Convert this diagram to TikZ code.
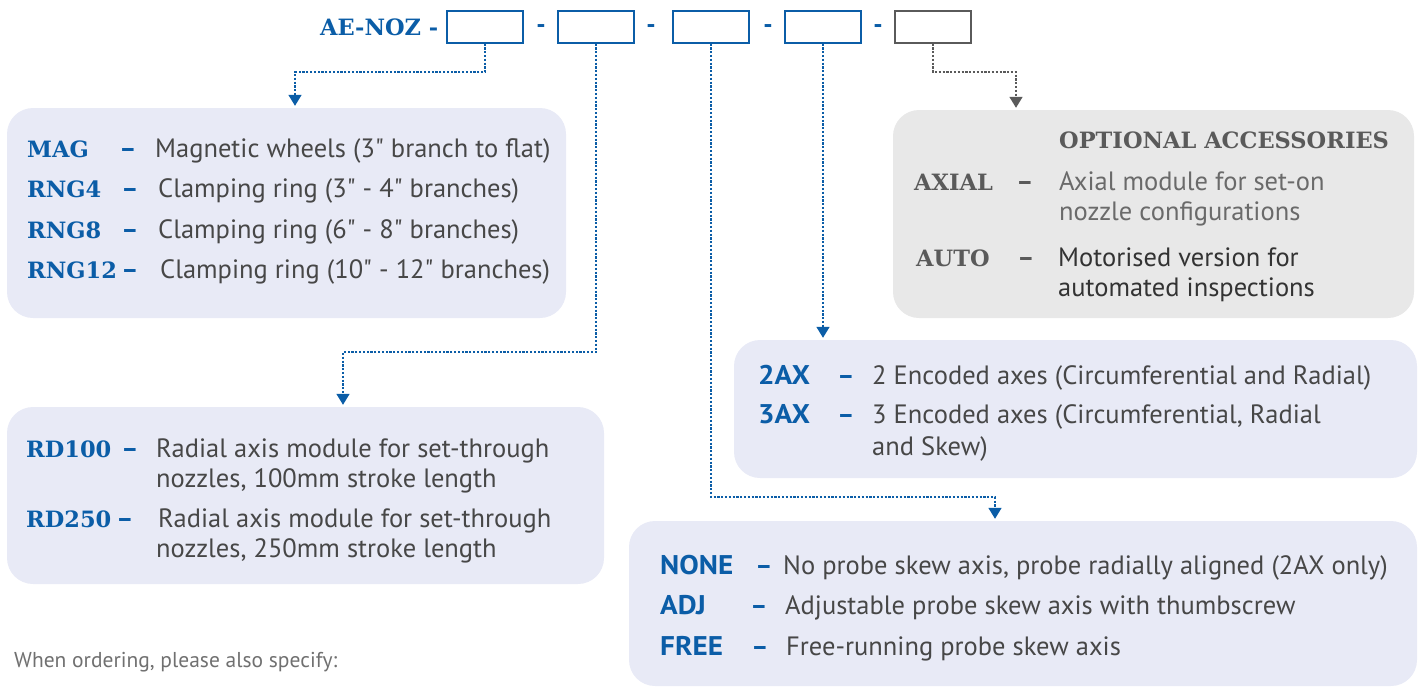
\documentclass[tikz,border=0pt]{standalone}
\usepackage{fontspec}
\setmainfont{PT Sans}
\newfontfamily\slabfont{DejaVu Serif}
\newfontfamily\condfont{PT Sans}
\newfontfamily\condbold[FakeStretch=1.08]{PT Sans Bold}
\usetikzlibrary{arrows.meta}
\definecolor{nblue}{HTML}{0B5DA7}
\definecolor{ntext}{HTML}{474747}
\definecolor{ngray}{HTML}{5A5A5A}
\definecolor{nlight}{HTML}{6A6A6A}
\definecolor{bfill}{HTML}{E8EAF6}
\definecolor{gfill}{HTML}{E8E8E8}
\definecolor{foot}{HTML}{707070}
\newcommand{\qd}{\textquotedbl}
\tikzset{
  codebox/.style={draw=nblue, line width=2pt, minimum width=76pt, minimum height=32pt, inner sep=0pt},
  greybox/.style={codebox, draw=ngray},
  panel/.style={fill=bfill, rounded corners=26pt, inner sep=0pt},
  gpanel/.style={panel, fill=gfill},
  conn/.style={nblue, line width=1.6pt, dash pattern=on 2.2pt off 1.6pt, -{Triangle[width=13pt,length=11pt]}, shorten >=2pt},
  gconn/.style={conn, ngray},
  lbl/.style={anchor=base west, inner sep=0pt, text=nblue, font=\slabfont\bfseries\fontsize{22.5}{26}\selectfont},
  glbl/.style={lbl, text=ngray},
  clbl/.style={anchor=base west, inner sep=0pt, text=nblue, font=\condbold\fontsize{27}{30}\selectfont},
  desc/.style={anchor=base west, inner sep=0pt, text=ntext, font=\fontsize{26.5}{30}\selectfont},
  cdesc/.style={anchor=base west, inner sep=0pt, text=ntext, font=\condfont\fontsize{26.5}{30}\selectfont},
  dsh/.style={anchor=base, inner sep=0pt, text=nblue, font=\bfseries\fontsize{26}{30}\selectfont},
  cdsh/.style={dsh},
  gdsh/.style={dsh, text=ngray},
}
\begin{document}
\begin{tikzpicture}[x=1pt,y=-1pt]
\useasboundingbox (0,0) rectangle (1418,686);
% header
\node[lbl] (title) at (320,35) {AE-NOZ -};
\node[codebox] (b1) at (485,26.5) {};
\node[codebox] (b2) at (596,26.5) {};
\node[codebox] (b3) at (711,26.5) {};
\node[codebox] (b4) at (823,26.5) {};
\node[greybox] (b5) at (933,26.5) {};
\node[dsh] (h1) at (541,33) {-};
\node[dsh] (h2) at (651,33) {-};
\node[dsh] (h3) at (768,33) {-};
\node[dsh] (h4) at (878,33) {-};
% panels
\node[panel, minimum width=559pt, minimum height=210pt] (pA) at (286.5,213) {};
\node[gpanel, minimum width=521pt, minimum height=208pt] (pG) at (1153.5,214) {};
\node[panel, minimum width=597pt, minimum height=177pt] (pR) at (305.5,495.5) {};
\node[panel, minimum width=683pt, minimum height=138pt] (pX) at (1075.5,409) {};
\node[panel, minimum width=788pt, minimum height=165pt] (pN) at (1023,603.5) {};
% connectors
\coordinate (j1) at (295,72);
\coordinate (j2) at (343,352);
\coordinate (j3) at (995,497);
\coordinate (j5) at (1016,72);
\draw[conn] (b1.south) |- (j1) -- (j1 |- pA.north);
\draw[conn] (b2.south) |- (j2) -- (j2 |- pR.north);
\draw[conn] (b3.south) |- (j3) -- (j3 |- pN.north);
\draw[conn] (b4.south) -- (b4.south |- pX.north);
\draw[gconn] (b5.south) |- (j5) -- (j5 |- pG.north);
% panel A
\node[lbl] (mag) at (27,157) {MAG};
\node[dsh] (dm) at (128,157) {–};
\node[desc] (tm) at (155,157) {Magnetic wheels (3\qd{} branch to flat)};
\node[lbl] (r4) at (27,197) {RNG4};
\node[dsh] (d4) at (130,197) {–};
\node[desc] (t4) at (158,197) {Clamping ring (3\qd{} - 4\qd{} branches)};
\node[lbl] (r8) at (27,238) {RNG8};
\node[dsh] (d8) at (130,238) {–};
\node[desc] (t8) at (158,238) {Clamping ring (6\qd{} - 8\qd{} branches)};
\node[lbl] (r12) at (27,278) {RNG12};
\node[dsh] (d12) at (130,278) {–};
\node[desc] (t12) at (160,278) {Clamping ring (10\qd{} - 12\qd{} branches)};
% grey panel
\node[glbl] (opt) at (1059,148) {OPTIONAL ACCESSORIES};
\node[glbl] (ax) at (914,190) {AXIAL};
\node[gdsh] (dax) at (1025,190) {–};
\node[desc, text=nlight] (tax1) at (1059,190) {Axial module for set-on};
\node[desc, text=nlight] (tax2) at (1059,220) {nozzle configurations};
\node[glbl] (au) at (916,266) {AUTO};
\node[gdsh] (dau) at (1026,266) {–};
\node[desc, text=black!80] (tau1) at (1058,266) {Motorised version for};
\node[desc, text=black!80] (tau2) at (1058,296) {automated inspections};
% RD panel
\node[lbl] (rd1) at (26,457) {RD100};
\node[dsh] (drd1) at (130,457) {–};
\node[desc] (trd1a) at (156,457) {Radial axis module for set-through};
\node[desc] (trd1b) at (156,487) {nozzles, 100mm stroke length};
\node[lbl] (rd2) at (26,527) {RD250};
\node[dsh] (drd2) at (125,527) {–};
\node[desc] (trd2a) at (158,527) {Radial axis module for set-through};
\node[desc] (trd2b) at (156,557) {nozzles, 250mm stroke length};
% 2AX panel
\node[clbl] (x2) at (758,384) {2AX};
\node[cdsh] (dx2) at (846,384) {–};
\node[cdesc] (tx2) at (872,384) {2 Encoded axes (Circumferential and Radial)};
\node[clbl] (x3) at (758,423) {3AX};
\node[cdsh] (dx3) at (846,423) {–};
\node[cdesc] (tx3a) at (872,423) {3 Encoded axes (Circumferential, Radial};
\node[cdesc] (tx3b) at (872,455) {and Skew)};
% NONE panel
\node[clbl] (none) at (660,574) {NONE};
\node[cdsh] (dnone) at (764,574) {–};
\node[cdesc] (tnone) at (783,574) {No probe skew axis, probe radially aligned (2AX only)};
\node[clbl] (adj) at (660,614) {ADJ};
\node[cdsh] (dadj) at (759,614) {–};
\node[cdesc] (tadj) at (785,614) {Adjustable probe skew axis with thumbscrew};
\node[clbl] (free) at (660,655) {FREE};
\node[cdsh] (dfree) at (760,655) {–};
\node[cdesc] (tfree) at (786,655) {Free-running probe skew axis};
% footer
\node[desc, text=foot, font=\fontsize{21.5}{25}\selectfont] (foot) at (14,667) {When ordering, please also specify:};
\end{tikzpicture}
\end{document}
